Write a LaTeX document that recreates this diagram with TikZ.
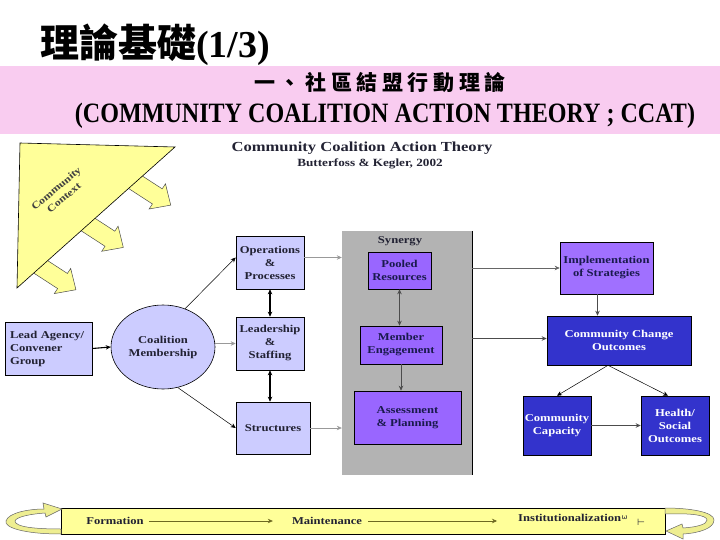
\documentclass[tikz,border=0pt]{standalone}
\usepackage{fontspec}
\setmainfont{Liberation Serif}
\newfontfamily\cjk{Noto Sans CJK TC}
\newfontfamily\cjkband{Noto Sans CJK TC}[LetterSpace=22]
\newfontfamily\dserif{Liberation Serif}[FakeStretch=1.2]
\newfontfamily\nserif{Liberation Serif}[FakeStretch=0.86]
\newfontfamily\djv{DejaVu Sans}
\usetikzlibrary{shapes.geometric,arrows.meta,calc}
\definecolor{bandpink}{HTML}{F9CCF0}
\definecolor{lav}{HTML}{CCCCFF}
\definecolor{purp}{HTML}{9966FF}
\definecolor{purpl}{HTML}{A070FF}
\definecolor{blu}{HTML}{3333CC}
\definecolor{syngray}{HTML}{B3B3B3}
\definecolor{navy}{HTML}{1A1A4D}
\definecolor{txtd}{HTML}{222233}
\definecolor{pale}{HTML}{FFFF99}
\definecolor{olivel}{HTML}{C8C880}
\tikzset{
  box/.style={draw=black, line width=0.6pt, inner sep=0pt, align=center,
    font=\dserif\bfseries\fontsize{10.5}{13}\selectfont},
  lavbox/.style={box, fill=lav, text=txtd},
  purbox/.style={box, fill=purp, text=navy},
  blubox/.style={box, fill=blu, text=white},
  lbl/.style={inner sep=0pt, font=\dserif\bfseries\fontsize{10.5}{13}\selectfont, text=txtd},
  blk/.style={->, draw=black, line width=0.5pt},
  blkthick/.style={->, draw=black, line width=1.1pt},
  gry/.style={->, draw=gray!80, line width=0.6pt},
  dgry/.style={->, draw=black!70, line width=1pt},
  blockarrow/.style={fill=pale, draw=black!70, line width=0.5pt},
}
\begin{document}
\begin{tikzpicture}[x=1pt,y=-1pt, >={Stealth[length=5pt,width=4.5pt]}]
\useasboundingbox (0,0) rectangle (720,540);
\fill[white] (0,0) rectangle (720,540);

% title
\node[anchor=base west, inner sep=0pt] (title) at (40,58)
  {\cjk\bfseries\fontsize{39}{40}\selectfont 理論基礎{\rmfamily\bfseries\fontsize{38}{40}\selectfont(1/3)}};
\fill[bandpink] (0,66) rectangle (720,134);
\node[inner sep=0pt] (zh) at (380,83) {\cjkband\bfseries\fontsize{21}{24}\selectfont 一、社區結盟行動理論};
\node[inner sep=0pt] (en) at (385,116) {\nserif\bfseries\fontsize{28}{30}\selectfont (COMMUNITY COALITION ACTION THEORY ; CCAT)};

% diagram heading
\node[inner sep=0pt, font=\dserif\bfseries\fontsize{13.8}{15}\selectfont, text=txtd] (hd) at (362,148) {Community Coalition Action Theory};
\node[inner sep=0pt, font=\dserif\bfseries\fontsize{11}{13}\selectfont, text=txtd] (hd2) at (370,164) {Butterfoss \& Kegler, 2002};

% block arrows from community context
\foreach \t in {0.25,0.55,0.85}{
  \begin{scope}[shift={($(175,147)+\t*(-158,141)$)}, rotate=-33]
    \draw[blockarrow] (-14,-9) -- (26,-9) -- (26,-15) -- (42,0) -- (26,15) -- (26,9) -- (-14,9) -- cycle;
  \end{scope}
}
% community context triangle
\draw[fill=pale, draw=black, line width=0.6pt] (20,143) -- (175,147) -- (17,288) -- cycle;
\node[inner sep=0pt, rotate=40, align=center, text=black!75, font=\dserif\bfseries\fontsize{10}{12}\selectfont] (ctx) at (60,193) {Community\\Context};

% left part
\node[lavbox, minimum height=53pt, text width=77pt, inner xsep=5pt, align=left] (lead) at (48.5,348.5) {Lead Agency/\\Convener\\Group};
\node[ellipse, draw=black, line width=0.6pt, fill=lav, minimum width=104pt, minimum height=84pt, inner sep=0pt, align=center, text=txtd, font=\dserif\bfseries\fontsize{10.5}{13}\selectfont] (memb) at (163,347) {Coalition\\Membership};
\node[lavbox, minimum width=68pt, minimum height=53pt] (ops) at (270,262.5) {Operations\\\&\\Processes};
\node[lavbox, minimum width=68pt, minimum height=53pt] (ldr) at (270,343.5) {Leadership\\\&\\Staffing};
\node[lavbox, minimum width=74pt, minimum height=52pt] (str) at (273,428) {Structures};

% synergy
\node[fill=syngray, minimum width=130pt, minimum height=244pt, inner sep=0pt] (syn) at (407,353) {};
\draw[black, line width=0.8pt] (syn.north east) -- (syn.south east);
\node[lbl] (synl) at (400,241) {Synergy};
\node[purbox, minimum width=63pt, minimum height=37pt] (pool) at (399.5,270.5) {Pooled\\Resources};
\node[purbox, minimum width=82pt, minimum height=38pt] (mem) at (401,345) {Member\\Engagement};
\node[purbox, minimum width=107pt, minimum height=53pt] (ass) at (407.5,417.5) {Assessment\\\& Planning};

% right part
\node[box, fill=purpl, text=navy, minimum width=93pt, minimum height=52pt] (impl) at (606.5,268) {Implementation\\of Strategies};
\node[blubox, minimum width=144pt, minimum height=49pt] (cc) at (619,340.5) {Community Change\\Outcomes};
\node[blubox, minimum width=68pt, minimum height=59pt] (cap) at (557,425.5) {Community\\Capacity};
\node[blubox, minimum width=68pt, minimum height=59pt] (hlth) at (675,425.5) {Health/\\Social\\Outcomes};

% connectors
\draw[blkthick] (lead.east) -- (memb.west);
\draw[blk] (memb.60) -- ($(ops.west)+(0,-5)$);
\draw[gry] (memb.east |- ldr.west) -- (ldr.west);
\draw[blk] (memb.-70) -- (str.west);
\draw[blkthick, <->] (ops.south) -- (ldr.north);
\draw[blkthick, <->] (ldr.south) -- (ldr.south |- str.north);
\draw[gry] ($(ops.east)+(0,-5)$) -- ($(ops.east -| syn.west)+(0,-5)$);
\draw[gry] (str.east) -- (str.east -| syn.west);
\draw[dgry, <->] (pool.south) -- (pool.south |- mem.north);
\draw[dgry] (mem.south) -- (mem.south |- ass.north);
\draw[gry, draw=black!60] (syn.east |- impl.west) -- (impl.west);
\draw[dgry] ($(syn.east |- cc.west)+(0,-2)$) -- ($(cc.west)+(0,-2)$);
\draw[dgry] ($(impl.south)+(-9,0)$) -- ($(impl.south |- cc.north)+(-9,0)$);
\coordinate (ccb) at ($(cc.south)+(-11,0)$);
\draw[blk] (ccb) -- (cap.north);
\draw[blk] (ccb) -- ($(hlth.north)+(-7,0)$);
\draw[dgry] (cap.east) -- (hlth.west);

% bottom band
\draw[fill=pale, draw=black, line width=0.7pt] (61,508) rectangle (665,534);
\node[lbl] (form) at (115,521) {Formation};
\node[lbl] (maint) at (327,521) {Maintenance};
\node[lbl, anchor=west] (inst) at (518,518) {Institutionalization};
\node[inner sep=0pt, font=\djv\fontsize{7}{8}\selectfont, text=txtd, anchor=west] (om) at (inst.east) {\raisebox{-3pt}{ω}};
\node[inner sep=0pt, font=\djv\fontsize{9}{10}\selectfont, text=txtd] (tk) at (641,522) {⊢};
\draw[->, draw=olive!70!black, line width=0.5pt] ($(form.east)+(5,0)$) -- ($(maint.west)+(-19,0)$);
\draw[->, draw=olive!70!black, line width=0.5pt] ($(maint.east)+(6,0)$) -- ($(inst.west)+(-21,3)$);

% curled arrows at the ends
\draw[fill=pale!70!olivel, draw=black!60, line width=0.5pt]
  (61,534) .. controls (22,534) and (4,527) .. (6,521)
  .. controls (8,513) and (28,509) .. (44,509) -- (43,503) -- (62,509) -- (46,517) -- (45,513)
  .. controls (30,514) and (16,517) .. (15,521)
  .. controls (15,527) and (35,529) .. (61,529) -- cycle;
\draw[fill=pale!70!olivel, draw=black!60, line width=0.5pt]
  (665,508) .. controls (690,508) and (714,512) .. (714,520)
  .. controls (714,528) and (700,533) .. (683,534) -- (683,539) -- (666,531) -- (682,524) -- (683,528)
  .. controls (698,527) and (707,524) .. (707,520)
  .. controls (707,515) and (690,513) .. (665,514) -- cycle;
\end{tikzpicture}
\end{document}
